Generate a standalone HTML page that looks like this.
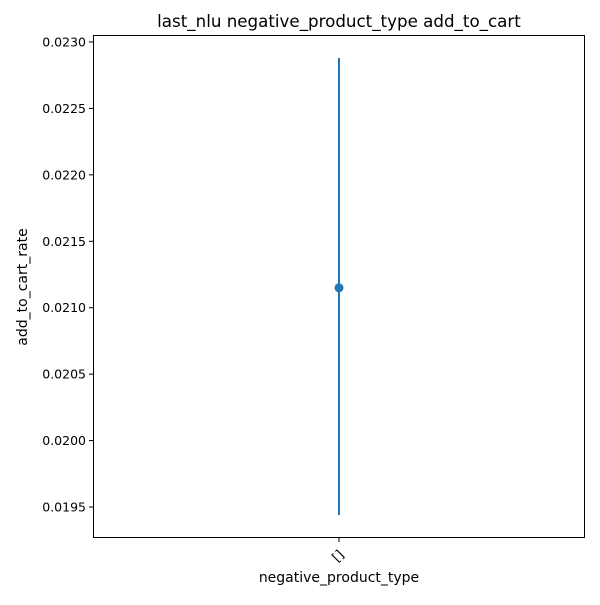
<!DOCTYPE html>
<html><head><meta charset="utf-8"><style>
body{margin:0;background:#fff;}
svg text{font-family:"DejaVu Sans","Liberation Sans",sans-serif;fill:#000;}
</style></head><body>
<svg id="chart" width="600" height="600" xmlns="http://www.w3.org/2000/svg">
<rect x="0" y="0" width="600" height="600" fill="#fff"/>
<g id="marks"></g>
<g id="yticks"></g>
<rect x="93.5" y="35.5" width="491" height="502" fill="none" stroke="#000" stroke-width="1"/>
<text x="339" y="27" font-size="16.7" text-anchor="middle">last_nlu negative_product_type add_to_cart</text>
<text x="339" y="582" font-size="14" text-anchor="middle">negative_product_type</text>
<text transform="translate(27,287) rotate(-90)" font-size="14" text-anchor="middle">add_to_cart_rate</text>
</svg>
<script>
const categories=["[]"];
const means=[0.02115];
const lows=[0.01944];
const highs=[0.02288];
const yTicks=[0.0195,0.0200,0.0205,0.0210,0.0215,0.0220,0.0225,0.0230];
const yTickLabels=["0.0195","0.0200","0.0205","0.0210","0.0215","0.0220","0.0225","0.0230"];
const NS="http://www.w3.org/2000/svg";
function y(v){return 42+(0.0230-v)/0.0005*66.43;}
function x(i){return 93.5+491*(i+0.5)/categories.length;}
const yt=document.getElementById('yticks');
yTicks.forEach((v,i)=>{
 const l=document.createElementNS(NS,'line');
 l.setAttribute('x1',89);l.setAttribute('x2',93.5);l.setAttribute('y1',y(v));l.setAttribute('y2',y(v));l.setAttribute('stroke','#000');
 
 
 yt.appendChild(l);
 const t=document.createElementNS(NS,'text');
 t.setAttribute('x',86);t.setAttribute('y',y(v)+4.5);t.setAttribute('font-size','12.5');t.setAttribute('text-anchor','end');
 t.textContent=yTickLabels[i];
 
 
 yt.appendChild(t);
});
const m=document.getElementById('marks');
categories.forEach((c,i)=>{
 const cx=x(i);
 const tk=document.createElementNS(NS,'line');
 tk.setAttribute('x1',cx);tk.setAttribute('x2',cx);tk.setAttribute('y1',537.5);tk.setAttribute('y2',542);tk.setAttribute('stroke','#000');
 
 
 m.appendChild(tk);
 const t=document.createElementNS(NS,'text');
 t.setAttribute('transform','translate('+(cx+2)+',559) rotate(-45)');t.setAttribute('font-size','13');t.setAttribute('text-anchor','middle');
 t.textContent=c;
 
 
 m.appendChild(t);
 const e=document.createElementNS(NS,'line');
 e.setAttribute('x1',cx);e.setAttribute('x2',cx);e.setAttribute('y1',y(highs[i]));e.setAttribute('y2',y(lows[i]));e.setAttribute('stroke','#1f77b4');e.setAttribute('stroke-width','2');
 
 
 m.appendChild(e);
 const p=document.createElementNS(NS,'circle');
 p.setAttribute('cx',cx);p.setAttribute('cy',y(means[i]));p.setAttribute('r',4.5);p.setAttribute('fill','#1f77b4');
 
 
 m.appendChild(p);
});
</script>
</body></html>
